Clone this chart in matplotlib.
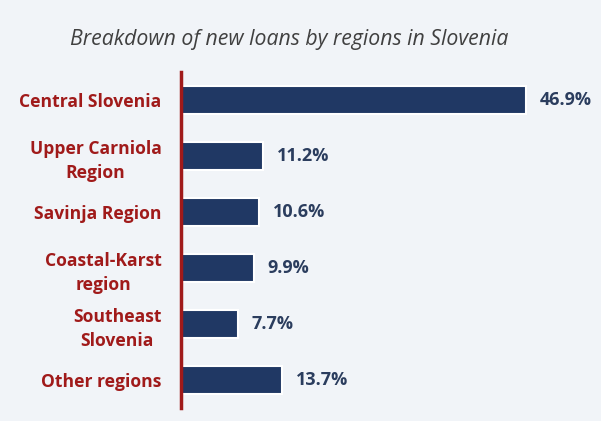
import matplotlib
matplotlib.use("Agg")
from matplotlib import pyplot as plt

regions = ["Central Slovenia", "Upper Carniola\nRegion", "Savinja Region",
           "Coastal-Karst\nregion", "Southeast\nSlovenia", "Other regions"]
shares = [46.9, 11.2, 10.6, 9.9, 7.7, 13.7]

bg = "#f1f4f8"
navy = "#203864"
red = "#a01a1a"

fig = plt.figure(figsize = (6.01, 4.21), dpi = 100, facecolor = bg)
ax = fig.add_axes([181 / 601, 13 / 421, 409 / 601, 336 / 421])
ax.set_facecolor(bg)

pos = list(range(len(regions)))
ax.barh(pos, shares, height = 0.5, color = navy, edgecolor = "white", linewidth = 1.5)
ax.set_xlim(0, 55.6)
ax.set_ylim(len(regions) - 0.5, -0.5)

for p, v in zip(pos, shares):
    ax.annotate(f"{v:.1f}%", (v, p), xytext = (14, 0), textcoords = "offset pixels",
                va = "center", ha = "left", fontsize = 13, fontweight = "bold",
                color = "#2b3d5e", family = "Open Sans")

ax.set_yticks(pos)
ax.set_yticklabels(regions, fontsize = 12.6, fontweight = "bold", color = red,
                   family = "Open Sans", linespacing = 1.45, multialignment = "center")
ax.tick_params(axis = "y", length = 0, pad = 14)
ax.set_xticks([])
for s in ["top", "right", "bottom"]:
    ax.spines[s].set_visible(False)
ax.spines["left"].set_color(red)
ax.spines["left"].set_linewidth(2.5)

fig.text(289 / 601, 1 - 39 / 421, "Breakdown of new loans by regions in Slovenia",
         ha = "center", va = "center", fontsize = 15.3, style = "italic",
         color = "#404040", family = "Open Sans")

fig.savefig("out.png", facecolor = bg)
